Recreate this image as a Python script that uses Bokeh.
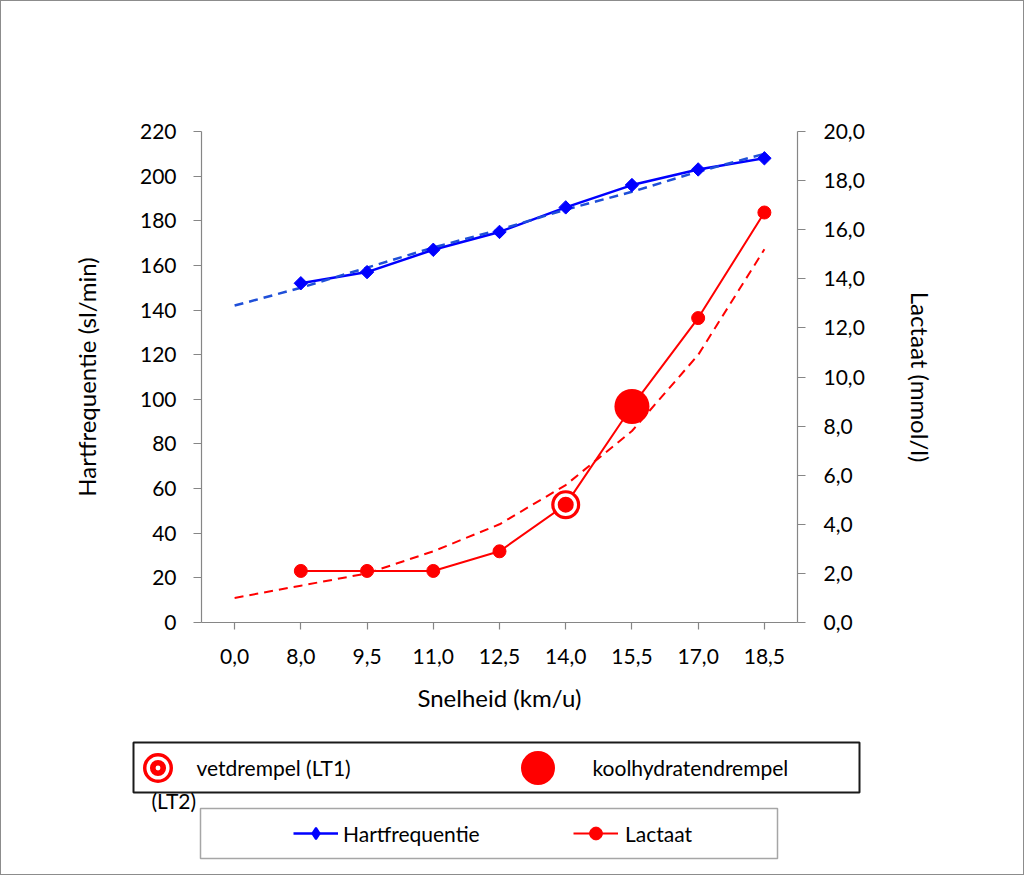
import math
import numpy as np
from bokeh.plotting import figure
from bokeh.layouts import column
from bokeh.models import (FactorRange, Range1d, LinearAxis, FixedTicker,
                          CustomJSTickFormatter, Legend, LegendItem,
                          BoxAnnotation, Label)
from bokeh.embed import file_html
from bokeh.resources import INLINE

# ---------------- data ----------------
speeds = ["0,0", "8,0", "9,5", "11,0", "12,5", "14,0", "15,5", "17,0", "18,5"]
data_speeds = ["8,0", "9,5", "11,0", "12,5", "14,0", "15,5", "17,0", "18,5"]
heart_rate = [152, 157, 167, 175, 186, 196, 203, 208]
lactate = [2.1, 2.1, 2.1, 2.9, 4.8, 8.8, 12.4, 16.7]
hr_trend = [142, 150, 159, 168, 176, 185, 193, 202, 210]
lac_trend = [1.0, 1.5, 2.0, 2.9, 4.0, 5.6, 7.8, 10.9, 15.2]
lt1_speed = ["14,0"]
lt1_lactate = [4.8]
lt2_speed = ["15,5"]
lt2_lactate = [8.8]
hr_ticks = [0, 20, 40, 60, 80, 100, 120, 140, 160, 180, 200, 220]
lac_ticks = [0, 2, 4, 6, 8, 10, 12, 14, 16, 18, 20]

FONT = "Lato"
AXIS_COL = "#868686"
BLUE = "#0000FF"
BLUE_TREND = "#1F4FD8"
RED = "#FF0000"

p = figure(width=1024, height=730,
           x_range=FactorRange(factors=speeds),
           y_range=Range1d(0, 220),
           output_backend="svg", toolbar_location=None,
           min_border_left=201, min_border_right=227,
           min_border_top=131, min_border_bottom=108,
           background_fill_color="white", border_fill_color="white")
p.frame_align = False
p.outline_line_color = None
p.xgrid.visible = False
p.ygrid.visible = False
p.extra_y_ranges = {"lac": Range1d(0, 20)}

def style_axis(ax):
    ax.axis_line_color = AXIS_COL
    ax.axis_line_width = 1.2
    ax.major_tick_line_color = AXIS_COL
    ax.major_tick_line_width = 1.2
    ax.minor_tick_line_color = None
    ax.major_tick_in = 0
    ax.major_label_text_font = FONT
    ax.major_label_text_font_size = "21px"
    ax.major_label_text_color = "black"
    ax.axis_label_text_font = FONT
    ax.axis_label_text_font_size = "24px"
    ax.axis_label_text_font_style = "normal"
    ax.axis_label_text_color = "black"

xa = p.xaxis[0]
style_axis(xa)
xa.major_tick_out = 7
xa.major_label_standoff = 19
xa.axis_label = "Snelheid (km/u)"
xa.axis_label_standoff = 16

ya = p.yaxis[0]
style_axis(ya)
ya.ticker = FixedTicker(ticks=hr_ticks)
ya.major_tick_out = 8
ya.major_label_standoff = 17
ya.axis_label = "Hartfrequentie (sl/min)"
ya.axis_label_standoff = 36

ra = LinearAxis(y_range_name="lac",
                ticker=FixedTicker(ticks=lac_ticks),
                formatter=CustomJSTickFormatter(code="return tick.toFixed(1).replace('.', ',');"),
                axis_label="Lactaat (mmol/l)")
style_axis(ra)
ra.major_tick_out = 8
ra.major_label_standoff = 18
ra.axis_label_standoff = 38
p.add_layout(ra, "right")

# ---------------- series ----------------
p.line(data_speeds, heart_rate, line_color=BLUE, line_width=2.5)
p.line(data_speeds, lactate, y_range_name="lac", line_color=RED, line_width=2)

p.line(speeds, hr_trend, line_color=BLUE_TREND, line_width=2.5, line_dash="9 6")
p.line(speeds, lac_trend, y_range_name="lac", line_color=RED, line_width=2, line_dash="9 6")

p.scatter(data_speeds, heart_rate, marker="square", angle=math.pi / 4,
          size=9.5, fill_color=BLUE, line_color=BLUE)
p.scatter(data_speeds, lactate, y_range_name="lac", marker="circle",
          size=13, fill_color=RED, line_color=RED)

# LT1 (vetdrempel): target-like marker
p.scatter(lt1_speed, lt1_lactate, y_range_name="lac", marker="circle",
          size=29, fill_color=RED, line_color=None)
p.scatter(lt1_speed, lt1_lactate, y_range_name="lac", marker="circle",
          size=19.3, fill_color=RED, line_color="white", line_width=3.3)
# LT2 (koolhydratendrempel): big dot
p.scatter(lt2_speed, lt2_lactate, y_range_name="lac", marker="circle",
          size=35, fill_color=RED, line_color=None)

# ---------------- legend area (second figure) ----------------
lf = figure(width=1024, height=145, x_range=Range1d(0, 1024), y_range=Range1d(0, 145),
            output_backend="svg", toolbar_location=None,
            x_axis_location=None, y_axis_location=None,
            min_border_left=0, min_border_right=0, min_border_top=0, min_border_bottom=0,
            background_fill_color="white", border_fill_color="white")
lf.frame_align = False
lf.outline_line_color = None
lf.xgrid.visible = False
lf.ygrid.visible = False

def box(l, r, t, b, color, width):
    lf.add_layout(BoxAnnotation(left=l, right=r, top=t, bottom=b,
                                left_units="screen", right_units="screen",
                                top_units="screen", bottom_units="screen",
                                fill_alpha=0, line_color=color, line_alpha=1.0,
                                line_width=width))

box(133, 859, 133, 83, "#1a1a1a", 2)
box(200, 777, 67, 17, "#a6a6a6", 1.5)

# legend proxies (no visible mark: NaN position)
NA = np.array([np.nan])
leg_a = lf.scatter(NA, NA, marker="circle", fill_color=RED, line_color=RED, line_width=10.4)
leg_b = lf.scatter(NA, NA, marker="circle", fill_alpha=0, line_color="white", line_width=3.5)
leg_c = lf.scatter(NA, NA, marker="dot", line_color="white", line_width=1)
leg_big = lf.scatter(NA, NA, marker="circle", fill_color=RED, line_color=RED, line_width=14.4)
leg_hr_line = lf.line(NA, NA, line_color=BLUE, line_width=2.5)
leg_hr_pt = lf.scatter(NA, NA, marker="diamond", fill_color=BLUE, line_color=BLUE,
                       line_width=2)
leg_lac_line = lf.line(NA, NA, line_color=RED, line_width=2)
leg_lac_pt = lf.scatter(NA, NA, marker="circle", fill_color=RED, line_color=RED)

def make_legend(items, loc, gw, gh, standoff):
    lg = Legend(items=items, location=loc, orientation="horizontal",
                glyph_width=gw, glyph_height=gh, label_standoff=standoff,
                padding=0, margin=0, spacing=0,
                border_line_color=None, background_fill_alpha=0,
                label_text_font=FONT, label_text_font_size="21px",
                label_text_color="black")
    lf.add_layout(lg)
    return lg

make_legend([LegendItem(label="vetdrempel (LT1)", renderers=[leg_a, leg_b, leg_c], index=0)],
            (132.5, 83.5), 49, 49, 15)
make_legend([LegendItem(label="koolhydratendrempel", renderers=[leg_big], index=0)],
            (512.5, 83.5), 49, 49, 31)
make_legend([LegendItem(label="Hartfrequentie", renderers=[leg_hr_line, leg_hr_pt], index=0)],
            (293, 28), 45, 28, 5)
make_legend([LegendItem(label="Lactaat", renderers=[leg_lac_line, leg_lac_pt], index=0)],
            (573, 26), 45, 32, 7)

lf.add_layout(Label(x=151, y=75, x_units="screen", y_units="screen",
                    text="(LT2)", text_font=FONT, text_font_size="21px",
                    text_color="black", text_baseline="middle", text_align="left"))

border_css = (":host::after { content: ''; position: absolute; left: 0; top: 0; "
              "right: 0; bottom: 0; border: 1.5px solid #8c8c8c; "
              "pointer-events: none; z-index: 100; }")
layout = column(p, lf, spacing=0, stylesheets=[border_css])

open("out.html", "w").write(file_html(layout, INLINE))
